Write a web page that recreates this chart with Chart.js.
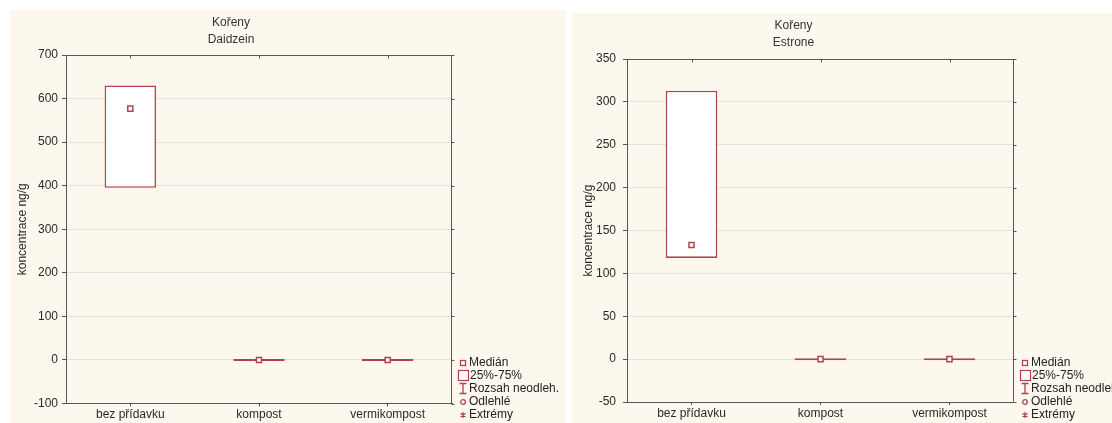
<!DOCTYPE html>
<html>
<head>
<meta charset="utf-8">
<title>Kořeny – Daidzein, Estrone</title>
<script src="https://cdn.jsdelivr.net/npm/chart.js@4.4.1/dist/chart.umd.min.js"></script>
<style>
  html, body { margin: 0; padding: 0; background: #ffffff; width: 1112px; height: 423px; overflow: hidden;
    font-family: "Liberation Sans", Arial, sans-serif; }
  .panel { position: absolute; background: #fdf8ee; }
  #p1 { left: 10px; top: 10px; width: 556px; height: 413px; }
  #p2 { left: 573px; top: 13px; width: 539px; height: 410px; overflow: hidden; }
  canvas { position: absolute; top: 0; }
  .legend { position: absolute; font-size: 12px; color: #222; white-space: nowrap; }
  .row { position: relative; height: 13px; line-height: 13px; }
  .row svg { position: absolute; left: 0; top: 0; }
  .row span { position: absolute; left: 13px; top: 0; }
</style>
</head>
<body>
<div class="panel" id="p1"><canvas id="c1" width="516" height="413" style="left:0"></canvas></div>
<div class="panel" id="p2"><canvas id="c2" width="518" height="410" style="left:0"></canvas></div>

<!-- box-plot key, one per panel -->
<div class="legend" id="lg1" style="left:456px; top:356px;"></div>
<div class="legend" id="lg2" style="left:1018px; top:356px;"></div>

<script>
// categories (treatments)
const categories = ['bez přídavku', 'kompost', 'vermikompost'];

// Daidzein in roots, ng/g
const daidzeinQ1     = [395, 0, 0];
const daidzeinQ3     = [630, 0, 0];
const daidzeinMedian = [577, 0, 0];
const daidzeinTicks  = [-100, 0, 100, 200, 300, 400, 500, 600, 700];

// Estrone in roots, ng/g
const estroneQ1     = [118, 0, 0];
const estroneQ3     = [313, 0, 0];
const estroneMedian = [133, 0, 0];
const estroneTicks  = [-50, 0, 50, 100, 150, 200, 250, 300, 350];

// key entries
const legendItems = ['Medián', '25%-75%', 'Rozsah neodleh.', 'Odlehlé', 'Extrémy'];

const RED = '#b0434c';
const FONT = '"Liberation Sans", Arial, sans-serif';
const AXIS = '#555555';

// closes the plot frame on top and right, with small category / value ticks there
const framePlugin = {
  id: 'frame',
  afterDraw(chart) {
    const { ctx, chartArea: a, scales } = chart;
    ctx.save();
    ctx.strokeStyle = AXIS;
    ctx.lineWidth = 1;
    ctx.beginPath();
    const L = Math.round(a.left) + 0.5, R = Math.round(a.right) - 0.5;
    const T = Math.round(a.top) + 0.5, B = Math.round(a.bottom) - 0.5;
    ctx.moveTo(L, T); ctx.lineTo(R, T); ctx.lineTo(R, B);
    scales.x.ticks.forEach((t, i) => {
      const x = Math.round(scales.x.getPixelForTick(i)) + 0.5;
      ctx.moveTo(x, T); ctx.lineTo(x, T + 3);
    });
    scales.y.ticks.forEach((t) => {
      const y = Math.round(scales.y.getPixelForValue(t.value)) + 0.5;
      ctx.moveTo(R, y); ctx.lineTo(R + 3, y);
    });
    ctx.stroke();
    ctx.restore();
  }
};

function makeChart(canvasId, cfg) {
  const ticks = cfg.ticks;
  return new Chart(document.getElementById(canvasId), {
    type: 'bar',
    data: {
      labels: categories,
      datasets: [
        {
          type: 'bar',
          label: '25%-75%',
          data: cfg.q1.map((v, i) => [v, cfg.q3[i]]),
          backgroundColor: '#ffffff',
          borderColor: RED,
          borderWidth: 1.6,
          borderSkipped: false,
          minBarLength: 2,
          barPercentage: 0.4,
          categoryPercentage: 1,
          order: 2
        },
        {
          type: 'line',
          label: 'Medián',
          data: cfg.median,
          showLine: false,
          pointStyle: 'rect',
          pointRadius: 3.6,
          pointBorderWidth: 1.5,
          pointBackgroundColor: '#ffffff',
          pointBorderColor: RED,
          order: 1
        }
      ]
    },
    options: {
      responsive: false,
      animation: false,
      events: [],
      layout: { padding: { left: 0, right: cfg.padRight, top: 0, bottom: 0 } },
      plugins: {
        legend: { display: false },
        tooltip: { enabled: false },
        title: {
          display: true,
          text: ['Kořeny', cfg.name],
          color: '#333333',
          font: { family: FONT, size: 12, weight: 'normal', lineHeight: 1.35 },
          padding: { top: 5, bottom: cfg.titleBottom }
        }
      },
      scales: {
        x: {
          type: 'category',
          offset: true,
          grid: { display: true, offset: false, drawOnChartArea: false, drawTicks: true, tickLength: 3, tickColor: AXIS },
          border: { display: true, color: AXIS, width: 1 },
          ticks: { color: '#2a2a2a', font: { family: FONT, size: 12 }, padding: 1, maxRotation: 0, autoSkip: false },
          afterFit: (s) => { s.height = cfg.xHeight; }
        },
        y: {
          min: ticks[0],
          max: ticks[ticks.length - 1],
          ticks: { stepSize: ticks[1] - ticks[0], color: '#2a2a2a', font: { family: FONT, size: 12 }, padding: cfg.yPad },
          grid: { color: '#e3e3e3', lineWidth: 1, tickColor: AXIS, tickLength: 4 },
          border: { display: true, color: AXIS, width: 1 },
          title: {
            display: true,
            text: 'koncentrace ng/g',
            color: '#2a2a2a',
            font: { family: FONT, size: 12 },
            padding: { top: cfg.yTitlePad, bottom: 0 }
          },
          afterFit: (s) => { s.width = cfg.yWidth; }
        }
      }
    },
    plugins: [framePlugin]
  });
}

makeChart('c1', {
  name: 'Daidzein', q1: daidzeinQ1, q3: daidzeinQ3, median: daidzeinMedian, ticks: daidzeinTicks,
  padRight: 74, yWidth: 56, xHeight: 19.5, titleBottom: 7.6, yPad: 4, yTitlePad: 5
});
makeChart('c2', {
  name: 'Estrone', q1: estroneQ1, q3: estroneQ3, median: estroneMedian, ticks: estroneTicks,
  padRight: 77, yWidth: 54, xHeight: 21, titleBottom: 8.6, yPad: 7, yTitlePad: 8
});

// key symbols
const symbols = [
  '<rect x="4.5" y="4.5" width="5" height="5" fill="#fff" stroke="' + RED + '" stroke-width="1.3"/>',
  '<rect x="2.5" y="1.5" width="10" height="10" fill="#fff" stroke="' + RED + '" stroke-width="1.2"/>',
  '<path d="M3.5 1.5 H10.5 M7 1.5 V11.5 M3.5 11.5 H10.5" stroke="' + RED + '" stroke-width="1.3" fill="none"/>',
  '<circle cx="7" cy="7" r="2.3" fill="#fff" stroke="' + RED + '" stroke-width="1.3"/>',
  '<path d="M7 4 V10 M4.4 5.5 L9.6 8.5 M4.4 8.5 L9.6 5.5" stroke="' + RED + '" stroke-width="1.3" fill="none"/>'
];
['lg1', 'lg2'].forEach((id) => {
  const box = document.getElementById(id);
  legendItems.forEach((txt, i) => {
    const row = document.createElement('div');
    row.className = 'row';
    row.innerHTML = '<svg width="14" height="13" viewBox="0 0 14 13">' + symbols[i] + '</svg>';
    const sp = document.createElement('span');
    sp.textContent = txt;
    if (i === 1) sp.style.left = '14px';
    row.appendChild(sp);
    box.appendChild(row);
  });
});
</script>
</body>
</html>
